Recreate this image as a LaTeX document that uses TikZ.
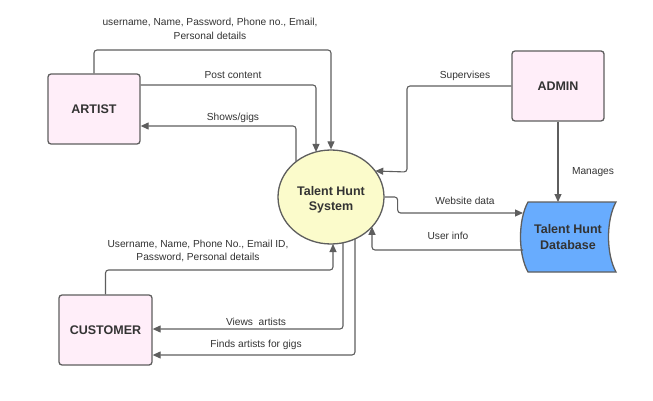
\documentclass[tikz,border=0pt]{standalone}
\usepackage{fontspec}
\setmainfont{Liberation Sans}
\usetikzlibrary{arrows.meta,calc,shapes.geometric}
\definecolor{boxfill}{HTML}{FFEEF9}
\definecolor{edge}{HTML}{5E5E5E}
\definecolor{ellfill}{HTML}{FBFBCB}
\definecolor{dbfill}{HTML}{68ACFE}
\definecolor{txt}{HTML}{333333}
\begin{document}
\begin{tikzpicture}[x=1pt,y=-1pt,
  entity/.style={draw=edge, line width=1.3pt, fill=boxfill, rounded corners=3pt,
    minimum width=92pt, minimum height=70pt, inner sep=0pt,
    font=\fontsize{12.5}{14}\selectfont\bfseries, text=txt},
  flow/.style={draw=edge, line width=1.1pt, rounded corners=3pt,
    -{Triangle[length=8pt,width=7pt]}},
  title/.style={inner sep=0pt, align=center,
    font=\fontsize{12.5}{15.5}\selectfont\bfseries, text=txt},
  lbl/.style={font=\fontsize{10.2}{13.8}\selectfont, text=txt, align=center, inner sep=0pt}]
\useasboundingbox (0,0) rectangle (653,401);
\fill[white] (0,0) rectangle (653,401);

% entities
\node[entity] (artist) at (94,109) {ARTIST};
\node[entity] (admin) at (558,86) {ADMIN};
\node[entity, minimum width=93pt] (customer) at (105.5,330) {CUSTOMER};

% process
\node[ellipse, draw=edge, line width=1.3pt, fill=ellfill, minimum width=106pt,
  minimum height=94pt, inner sep=0pt] (ell) at (331,197) {};
\node[title] (ellText) at (331,200) {Talent Hunt\\System};

% data store
\path[draw=edge, line width=1.3pt, fill=dbfill]
  (528,202) -- (616,202) .. controls (606,220) and (606,254) .. (616,272)
  -- (528,272) .. controls (518,254) and (518,220) .. (528,202) -- cycle;
\node[title, minimum width=90pt, minimum height=70pt] (db) at (568,237) {Talent Hunt\\Database};

% ellipse border points
\coordinate (eA) at (316,151.9);
\coordinate (eB) at (296,161.7);
\coordinate (eC) at (375.2,171);
\coordinate (eD) at (372,226.8);
\coordinate (eE) at (333,244);
\coordinate (eF) at (343,242.8);
\coordinate (eG) at (355,238.9);

% connectors
\draw[flow] (artist.north) |- (331,50) -- (ell.north);
\draw[flow] (artist.east |- 0,85) -| (eA);
\draw[flow] (eB) |- (artist.east |- 0,126);
\draw[flow] (admin.west) -| (407,172) -- (eC);
\draw[flow] (admin.south) -- (admin.south |- 0,202);
\draw[flow] (ell.east) -- ++(13,0) |- (523,213);
\draw[flow] (523,250) -| (eD);
\draw[flow] (customer.north) |- (333,270) -- (eE);
\draw[flow] (eF) |- (customer.east |- 0,329);
\draw[flow] (eG) |- (customer.east |- 0,355);

% labels
\node[lbl] (l1) at (210,29) {username, Name, Password, Phone no., Email,\\Personal details};
\node[lbl] (l2) at (233,75) {Post content};
\node[lbl] (l3) at (233,118) {Shows/gigs};
\node[lbl] (l4) at (465,76) {Supervises};
\node[lbl] (l5) at (593,172) {Manages};
\node[lbl] (l6) at (465,201) {Website data};
\node[lbl] (l7) at (448,236) {User info};
\node[lbl] (l8) at (198,251) {Username, Name, Phone No., Email ID,\\Password, Personal details};
\node[lbl] (l9) at (256,322) {Views\ \ artists};
\node[lbl] (l10) at (256,345) {Finds artists for gigs};
\end{tikzpicture}
\end{document}
